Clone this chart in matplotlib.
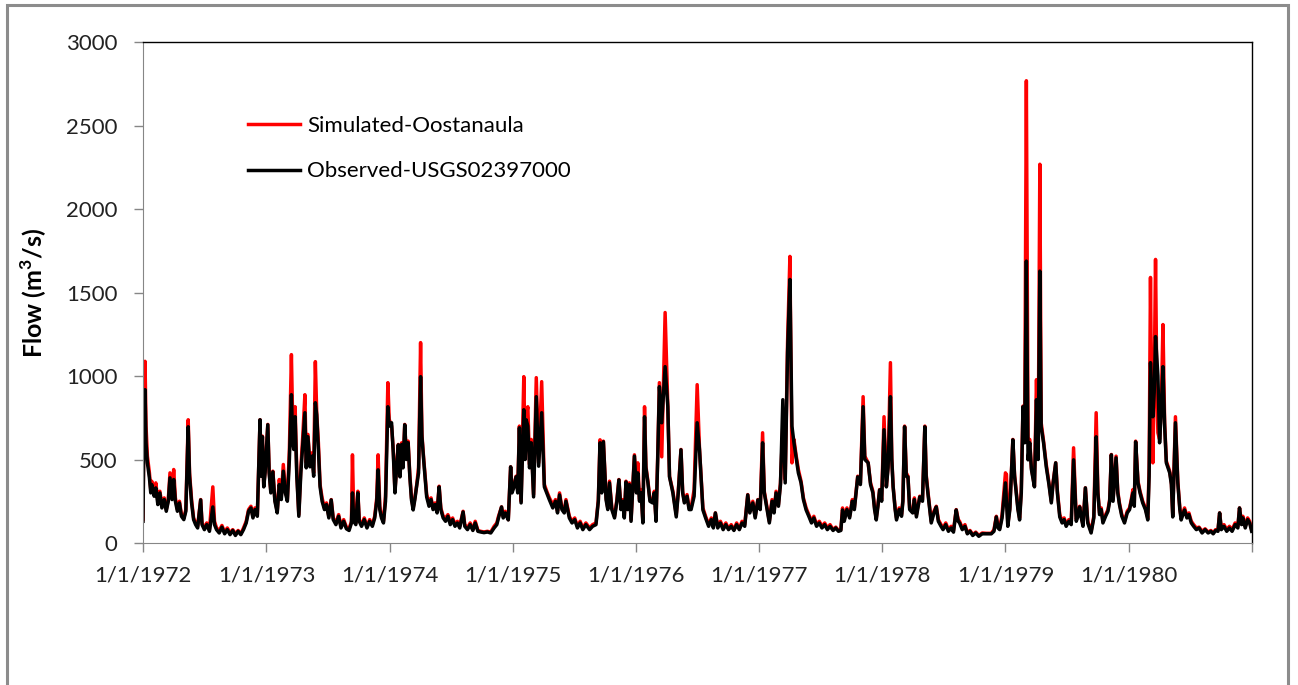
import matplotlib
matplotlib.use('Agg')
import matplotlib.pyplot as plt
import matplotlib.patches as mpatches
import pandas as pd

# values (m3/s), one line per year
dates = [
    # 1972
    '1972-01-01', '1972-01-04', '1972-01-07', '1972-01-10', '1972-01-14', '1972-01-20', '1972-01-24', '1972-01-27',
    '1972-02-03', '1972-02-08', '1972-02-14', '1972-02-20', '1972-02-26', '1972-03-04', '1972-03-10', '1972-03-16',
    '1972-03-21', '1972-03-27', '1972-04-01', '1972-04-06', '1972-04-12', '1972-04-18', '1972-04-24', '1972-05-01',
    '1972-05-07', '1972-05-14', '1972-05-18', '1972-05-24', '1972-05-30', '1972-06-05', '1972-06-11', '1972-06-20',
    '1972-06-24', '1972-07-01', '1972-07-08', '1972-07-16', '1972-07-26', '1972-07-31', '1972-08-06', '1972-08-14',
    '1972-08-22', '1972-08-30', '1972-09-07', '1972-09-15', '1972-09-23', '1972-10-01', '1972-10-09', '1972-10-17',
    '1972-10-25', '1972-11-02', '1972-11-09', '1972-11-16', '1972-11-22', '1972-11-28', '1972-12-05', '1972-12-13',
    '1972-12-16', '1972-12-20', '1972-12-24', '1972-12-28',
    # 1973
    '1973-01-05', '1973-01-09', '1973-01-14', '1973-01-20', '1973-01-26', '1973-02-02', '1973-02-08', '1973-02-14',
    '1973-02-20', '1973-02-26', '1973-03-04', '1973-03-10', '1973-03-16', '1973-03-20', '1973-03-23', '1973-03-27',
    '1973-04-01', '1973-04-07', '1973-04-13', '1973-04-19', '1973-04-25', '1973-04-29', '1973-05-04', '1973-05-10',
    '1973-05-16', '1973-05-21', '1973-05-26', '1973-05-30', '1973-06-04', '1973-06-09', '1973-06-15', '1973-06-22',
    '1973-06-28', '1973-07-05', '1973-07-12', '1973-07-18', '1973-07-26', '1973-08-03', '1973-08-10', '1973-08-18',
    '1973-08-26', '1973-09-03', '1973-09-10', '1973-09-13', '1973-09-17', '1973-09-23', '1973-09-29', '1973-10-03',
    '1973-10-10', '1973-10-18', '1973-10-26', '1973-11-03', '1973-11-11', '1973-11-18', '1973-11-24', '1973-11-28',
    '1973-12-03', '1973-12-08', '1973-12-14', '1973-12-20', '1973-12-27', '1973-12-31',
    # 1974
    '1974-01-07', '1974-01-12', '1974-01-17', '1974-01-22', '1974-01-27', '1974-02-01', '1974-02-06', '1974-02-10',
    '1974-02-15', '1974-02-20', '1974-02-25', '1974-03-02', '1974-03-07', '1974-03-12', '1974-03-17', '1974-03-22',
    '1974-03-28', '1974-04-03', '1974-04-07', '1974-04-12', '1974-04-21', '1974-04-28', '1974-05-04', '1974-05-10',
    '1974-05-16', '1974-05-22', '1974-05-28', '1974-06-02', '1974-06-09', '1974-06-16', '1974-06-23', '1974-06-30',
    '1974-07-07', '1974-07-14', '1974-07-21', '1974-07-28', '1974-08-07', '1974-08-12', '1974-08-20', '1974-08-28',
    '1974-09-05', '1974-09-12', '1974-09-20', '1974-09-28', '1974-10-08', '1974-10-18', '1974-10-28', '1974-11-07',
    '1974-11-15', '1974-11-20', '1974-11-29', '1974-12-04', '1974-12-10', '1974-12-19', '1974-12-26', '1974-12-30',
    # 1975
    '1975-01-04', '1975-01-11', '1975-01-16', '1975-01-21', '1975-01-26', '1975-02-03', '1975-02-07', '1975-02-10',
    '1975-02-15', '1975-02-20', '1975-02-25', '1975-03-04', '1975-03-12', '1975-03-19', '1975-03-28', '1975-04-05',
    '1975-04-12', '1975-04-20', '1975-04-30', '1975-05-08', '1975-05-14', '1975-05-20', '1975-05-27', '1975-06-03',
    '1975-06-08', '1975-06-18', '1975-06-26', '1975-07-04', '1975-07-12', '1975-07-20', '1975-07-28', '1975-08-06',
    '1975-08-17', '1975-08-26', '1975-09-05', '1975-09-12', '1975-09-17', '1975-09-22', '1975-09-27', '1975-10-05',
    '1975-10-10', '1975-10-15', '1975-10-22', '1975-10-30', '1975-11-06', '1975-11-12', '1975-11-18', '1975-11-23',
    '1975-11-28', '1975-12-03', '1975-12-08', '1975-12-13', '1975-12-18', '1975-12-28',
    # 1976
    '1976-01-03', '1976-01-07', '1976-01-12', '1976-01-17', '1976-01-22', '1976-01-27', '1976-01-31', '1976-02-06',
    '1976-02-12', '1976-02-20', '1976-02-25', '1976-03-01', '1976-03-06', '1976-03-11', '1976-03-18', '1976-03-28',
    '1976-04-05', '1976-04-10', '1976-04-20', '1976-04-30', '1976-05-06', '1976-05-14', '1976-05-19', '1976-05-24',
    '1976-06-01', '1976-06-07', '1976-06-13', '1976-06-22', '1976-07-01', '1976-07-08', '1976-07-18', '1976-07-26',
    '1976-08-04', '1976-08-12', '1976-08-18', '1976-08-24', '1976-08-31', '1976-09-08', '1976-09-16', '1976-09-24',
    '1976-10-02', '1976-10-10', '1976-10-18', '1976-10-26', '1976-11-03', '1976-11-11', '1976-11-19', '1976-11-28',
    '1976-12-04', '1976-12-13', '1976-12-20', '1976-12-28',
    # 1977
    '1977-01-04', '1977-01-11', '1977-01-16', '1977-01-21', '1977-01-31', '1977-02-08', '1977-02-14', '1977-02-20',
    '1977-02-27', '1977-03-05', '1977-03-12', '1977-03-19', '1977-03-26', '1977-04-02', '1977-04-08', '1977-04-14',
    '1977-04-20', '1977-04-27', '1977-05-05', '1977-05-12', '1977-05-20', '1977-05-28', '1977-06-05', '1977-06-12',
    '1977-06-20', '1977-06-28', '1977-07-06', '1977-07-14', '1977-07-22', '1977-07-30', '1977-08-08', '1977-08-16',
    '1977-08-24', '1977-08-31', '1977-09-05', '1977-09-10', '1977-09-18', '1977-09-26', '1977-10-04', '1977-10-10',
    '1977-10-20', '1977-10-28', '1977-11-05', '1977-11-10', '1977-11-20', '1977-11-27', '1977-12-04', '1977-12-09',
    '1977-12-14', '1977-12-19', '1977-12-24', '1977-12-30',
    # 1978
    '1978-01-06', '1978-01-13', '1978-01-18', '1978-01-25', '1978-01-29', '1978-02-02', '1978-02-08', '1978-02-12',
    '1978-02-20', '1978-02-27', '1978-03-03', '1978-03-08', '1978-03-13', '1978-03-18', '1978-03-23', '1978-04-01',
    '1978-04-06', '1978-04-12', '1978-04-22', '1978-04-30', '1978-05-07', '1978-05-11', '1978-05-16', '1978-05-26',
    '1978-06-03', '1978-06-10', '1978-06-16', '1978-06-24', '1978-06-30', '1978-07-08', '1978-07-16', '1978-07-24',
    '1978-07-31', '1978-08-08', '1978-08-14', '1978-08-18', '1978-08-26', '1978-09-03', '1978-09-10', '1978-09-18',
    '1978-09-26', '1978-10-05', '1978-10-14', '1978-10-24', '1978-11-05', '1978-11-20', '1978-11-28', '1978-12-05',
    '1978-12-10', '1978-12-15', '1978-12-22',
    # 1979
    '1979-01-01', '1979-01-04', '1979-01-08', '1979-01-14', '1979-01-23', '1979-01-28', '1979-02-02', '1979-02-07',
    '1979-02-12', '1979-02-17', '1979-02-22', '1979-02-27', '1979-03-04', '1979-03-09', '1979-03-14', '1979-03-19',
    '1979-03-28', '1979-04-03', '1979-04-08', '1979-04-13', '1979-04-17', '1979-04-24', '1979-05-02', '1979-05-10',
    '1979-05-17', '1979-05-22', '1979-05-30', '1979-06-04', '1979-06-11', '1979-06-18', '1979-06-24', '1979-06-30',
    '1979-07-08', '1979-07-15', '1979-07-22', '1979-07-30', '1979-08-04', '1979-08-09', '1979-08-14', '1979-08-19',
    '1979-08-26', '1979-09-02', '1979-09-07', '1979-09-12', '1979-09-20', '1979-09-27', '1979-10-02', '1979-10-07',
    '1979-10-12', '1979-10-17', '1979-10-25', '1979-11-01', '1979-11-06', '1979-11-11', '1979-11-16', '1979-11-25',
    '1979-11-30', '1979-12-05', '1979-12-12', '1979-12-20', '1979-12-28',
    # 1980
    '1980-01-04', '1980-01-09', '1980-01-14', '1980-01-18', '1980-01-22', '1980-01-29', '1980-02-04', '1980-02-12',
    '1980-02-20', '1980-02-27', '1980-03-02', '1980-03-06', '1980-03-09', '1980-03-13', '1980-03-17', '1980-03-21',
    '1980-03-25', '1980-03-28', '1980-04-02', '1980-04-07', '1980-04-12', '1980-04-17', '1980-04-22', '1980-04-27',
    '1980-05-02', '1980-05-07', '1980-05-11', '1980-05-15', '1980-05-19', '1980-05-26', '1980-06-01', '1980-06-05',
    '1980-06-10', '1980-06-15', '1980-06-22', '1980-06-28', '1980-07-05', '1980-07-12', '1980-07-20', '1980-07-28',
    '1980-08-06', '1980-08-15', '1980-08-24', '1980-09-01', '1980-09-08', '1980-09-15', '1980-09-22', '1980-09-27',
    '1980-10-02', '1980-10-10', '1980-10-18', '1980-10-26', '1980-11-03', '1980-11-12', '1980-11-20', '1980-11-25',
    '1980-12-01', '1980-12-05', '1980-12-12', '1980-12-19', '1980-12-25', '1980-12-31',
]

observed = [
    # 1972
    130, 700, 918, 600, 480, 390, 300, 350,
    280, 330, 230, 300, 210, 260, 190, 250,
    390, 260, 380, 250, 190, 240, 160, 140,
    190, 696, 400, 240, 140, 110, 90, 258,
    110, 80, 110, 70, 216, 110, 80, 60,
    95, 55, 80, 50, 75, 45, 70, 50,
    80, 120, 190, 210, 150, 200, 160, 738,
    400, 636, 336, 420,
    # 1973
    708, 420, 300, 426, 250, 180, 350, 260,
    430, 300, 250, 500, 888, 600, 560, 756,
    400, 160, 420, 600, 780, 450, 636, 456,
    520, 400, 840, 768, 560, 336, 250, 200,
    230, 150, 258, 140, 110, 160, 90, 130,
    85, 75, 120, 300, 130, 110, 300, 130,
    100, 140, 90, 130, 100, 150, 250, 438,
    200, 150, 120, 250, 816, 700,
    # 1974
    720, 540, 300, 450, 588, 396, 590, 450,
    708, 500, 600, 400, 258, 198, 260, 336,
    420, 996, 636, 500, 276, 220, 260, 200,
    230, 180, 336, 200, 150, 130, 160, 110,
    140, 100, 120, 90, 186, 100, 80, 110,
    75, 120, 70, 66, 62, 66, 60, 90,
    110, 150, 216, 150, 180, 138, 456, 300,
    # 1975
    330, 396, 300, 690, 240, 798, 500, 738,
    700, 450, 600, 276, 876, 460, 780, 336,
    300, 258, 210, 250, 180, 288, 200, 180,
    250, 150, 120, 140, 90, 120, 80, 110,
    80, 100, 110, 250, 600, 300, 606, 258,
    200, 360, 200, 150, 250, 378, 200, 250,
    150, 366, 200, 350, 130, 520,
    # 1976
    300, 420, 250, 300, 120, 756, 450, 360,
    250, 240, 300, 130, 500, 936, 720, 1056,
    816, 396, 300, 156, 300, 558, 300, 240,
    280, 200, 200, 280, 720, 558, 198, 150,
    100, 140, 90, 180, 90, 120, 80, 110,
    80, 100, 75, 110, 80, 120, 100, 288,
    180, 240, 150, 258,
    # 1977
    200, 600, 300, 240, 120, 250, 180, 300,
    220, 350, 858, 360, 1140, 1578, 700, 600,
    516, 420, 360, 260, 198, 160, 120, 150,
    100, 120, 90, 110, 80, 100, 75, 90,
    70, 75, 198, 130, 200, 150, 250, 200,
    396, 350, 816, 500, 480, 350, 300, 200,
    138, 220, 318, 250,
    # 1978
    678, 336, 450, 876, 500, 336, 200, 138,
    200, 160, 250, 696, 400, 396, 200, 180,
    260, 156, 276, 250, 696, 400, 300, 120,
    180, 216, 130, 100, 80, 110, 70, 90,
    65, 198, 130, 120, 80, 100, 55, 70,
    45, 60, 40, 55, 55, 55, 70, 156,
    90, 80, 150,
    # 1979
    360, 250, 100, 200, 618, 400, 300, 200,
    138, 300, 816, 600, 1688, 498, 600, 440,
    336, 858, 500, 1628, 696, 600, 456, 350,
    240, 350, 480, 300, 156, 120, 140, 100,
    130, 110, 498, 130, 160, 216, 150, 100,
    330, 120, 90, 60, 150, 636, 300, 170,
    200, 120, 160, 190, 250, 528, 250, 510,
    300, 230, 160, 120, 180,
    # 1980
    200, 250, 300, 220, 606, 360, 300, 240,
    200, 138, 400, 1080, 900, 756, 900, 1236,
    1100, 1000, 600, 800, 1056, 700, 480, 450,
    420, 350, 156, 450, 720, 360, 200, 138,
    170, 198, 150, 170, 120, 100, 80, 90,
    60, 80, 60, 70, 55, 75, 70, 180,
    80, 100, 70, 90, 70, 110, 90, 210,
    110, 150, 90, 140, 120, 70,
]

simulated = [
    # 1972
    140, 800, 1088, 700, 520, 420, 320, 370,
    300, 360, 250, 310, 230, 270, 200, 260,
    420, 280, 440, 270, 200, 250, 170, 150,
    200, 738, 420, 260, 150, 120, 100, 260,
    120, 90, 120, 80, 336, 130, 90, 75,
    105, 65, 90, 60, 80, 55, 75, 55,
    90, 130, 200, 220, 160, 210, 170, 738,
    420, 640, 340, 430,
    # 1973
    710, 430, 310, 430, 260, 190, 380, 280,
    470, 320, 260, 560, 1128, 700, 600, 816,
    420, 170, 450, 650, 888, 480, 650, 470,
    540, 420, 1086, 780, 600, 350, 270, 210,
    240, 160, 260, 150, 120, 170, 100, 140,
    95, 85, 130, 528, 150, 120, 310, 140,
    110, 150, 100, 140, 110, 160, 270, 528,
    220, 160, 130, 280, 960, 740,
    # 1974
    700, 560, 310, 470, 590, 400, 600, 460,
    710, 520, 610, 410, 270, 210, 270, 340,
    450, 1200, 650, 510, 290, 240, 270, 210,
    240, 190, 340, 210, 160, 150, 170, 130,
    150, 110, 130, 100, 190, 110, 90, 120,
    80, 130, 75, 70, 66, 70, 65, 100,
    120, 160, 216, 160, 190, 140, 456, 310,
    # 1975
    340, 400, 320, 700, 250, 996, 520, 760,
    816, 470, 620, 290, 990, 480, 966, 350,
    310, 270, 230, 260, 190, 300, 210, 190,
    260, 160, 130, 150, 100, 130, 90, 120,
    90, 110, 120, 260, 618, 310, 610, 270,
    210, 370, 210, 160, 260, 380, 210, 260,
    160, 370, 210, 360, 140, 528,
    # 1976
    310, 480, 260, 320, 130, 816, 460, 370,
    260, 250, 310, 140, 520, 960, 516, 1380,
    820, 400, 310, 170, 310, 560, 310, 250,
    290, 210, 210, 320, 948, 560, 210, 160,
    110, 150, 100, 180, 100, 130, 90, 120,
    85, 110, 80, 120, 85, 130, 110, 290,
    190, 250, 160, 260,
    # 1977
    210, 660, 310, 250, 130, 260, 190, 310,
    230, 360, 700, 380, 1200, 1716, 480, 620,
    530, 440, 370, 270, 210, 170, 130, 160,
    110, 130, 100, 120, 90, 110, 80, 95,
    75, 80, 210, 140, 210, 160, 260, 210,
    400, 360, 876, 520, 480, 360, 310, 210,
    150, 230, 320, 260,
    # 1978
    756, 340, 460, 1080, 510, 340, 210, 150,
    210, 170, 260, 700, 420, 400, 210, 190,
    270, 170, 280, 260, 700, 410, 310, 130,
    190, 220, 140, 110, 90, 120, 80, 100,
    75, 200, 140, 130, 90, 110, 60, 75,
    50, 65, 45, 60, 58, 58, 80, 160,
    100, 90, 170,
    # 1979
    420, 410, 110, 210, 620, 410, 310, 210,
    150, 320, 820, 620, 2768, 600, 620, 450,
    340, 978, 510, 2268, 720, 610, 470, 360,
    250, 360, 480, 310, 170, 130, 150, 110,
    140, 120, 570, 140, 170, 220, 160, 110,
    330, 130, 100, 70, 160, 780, 310, 180,
    210, 130, 170, 200, 260, 530, 260, 520,
    310, 240, 170, 130, 190,
    # 1980
    210, 260, 320, 240, 610, 370, 310, 250,
    210, 150, 450, 1590, 900, 480, 950, 1698,
    900, 660, 620, 820, 1308, 720, 490, 460,
    430, 360, 170, 460, 756, 370, 210, 150,
    180, 210, 160, 180, 130, 110, 90, 95,
    70, 85, 65, 75, 60, 80, 75, 180,
    90, 110, 80, 100, 80, 120, 100, 210,
    120, 160, 100, 150, 130, 80,
]

year_ticks = ['1/1/1972', '1/1/1973', '1/1/1974', '1/1/1975', '1/1/1976',
              '1/1/1977', '1/1/1978', '1/1/1979', '1/1/1980', '']

assert len(dates) == len(observed) == len(simulated)

df = pd.DataFrame({'Fecha': pd.to_datetime(dates), 'Obs': observed, 'Sim': simulated})

plt.rcParams['font.family'] = ['Lato', 'DejaVu Sans']
plt.rcParams['mathtext.fontset'] = 'custom'
plt.rcParams['mathtext.rm'] = 'Lato'
plt.rcParams['mathtext.bf'] = 'Lato:bold'

fig = plt.figure(figsize=(12.98, 6.85), dpi=100)
fig.patches.append(mpatches.Rectangle((7 / 1298, -0.1), 1281 / 1298, 1.1 - 5 / 685,
                                      transform=fig.transFigure, fill=False,
                                      edgecolor='#8c8c8c', linewidth=2.2))

ax = fig.add_axes([143 / 1298, 1 - 543 / 685, 1109 / 1298, 501 / 685])
ax.plot(df['Fecha'], df['Sim'], color='#ff0000', linewidth=2.5, label='Simulated-Oostanaula')
ax.plot(df['Fecha'], df['Obs'], color='black', linewidth=2.5, label='Observed-USGS02397000')

ax.set_ylim(0, 3000)
ax.set_yticks(range(0, 3001, 500))
ax.set_xlim(pd.Timestamp('1972-01-01'), pd.Timestamp('1981-01-01'))
ax.set_xticks(pd.date_range('1972-01-01', '1981-01-01', freq='YS'))
ax.set_xticklabels(year_ticks)

ax.tick_params(axis='both', direction='out', length=6.5, width=1, color='#868686',
               labelsize=16, labelcolor='#222222')
ax.tick_params(axis='y', pad=12)
ax.tick_params(axis='x', pad=10)

for side in ['left', 'bottom']:
    ax.spines[side].set_color('#868686')
for side in ['top', 'right']:
    ax.spines[side].set_color('black')
    ax.spines[side].set_linewidth(1.0)

ax.set_ylabel(r'Flow (m$^\mathbf{3}$/s)', fontsize=18, fontweight='bold')
ax.yaxis.set_label_coords(-0.085, 0.5)

ax.legend(loc='upper left', bbox_to_anchor=(0.0947, 0.853), frameon=False, fontsize=16,
          handlelength=2.35, handletextpad=0.3, labelspacing=1.16, borderpad=0, borderaxespad=0)

fig.savefig('out.png', dpi=100)
